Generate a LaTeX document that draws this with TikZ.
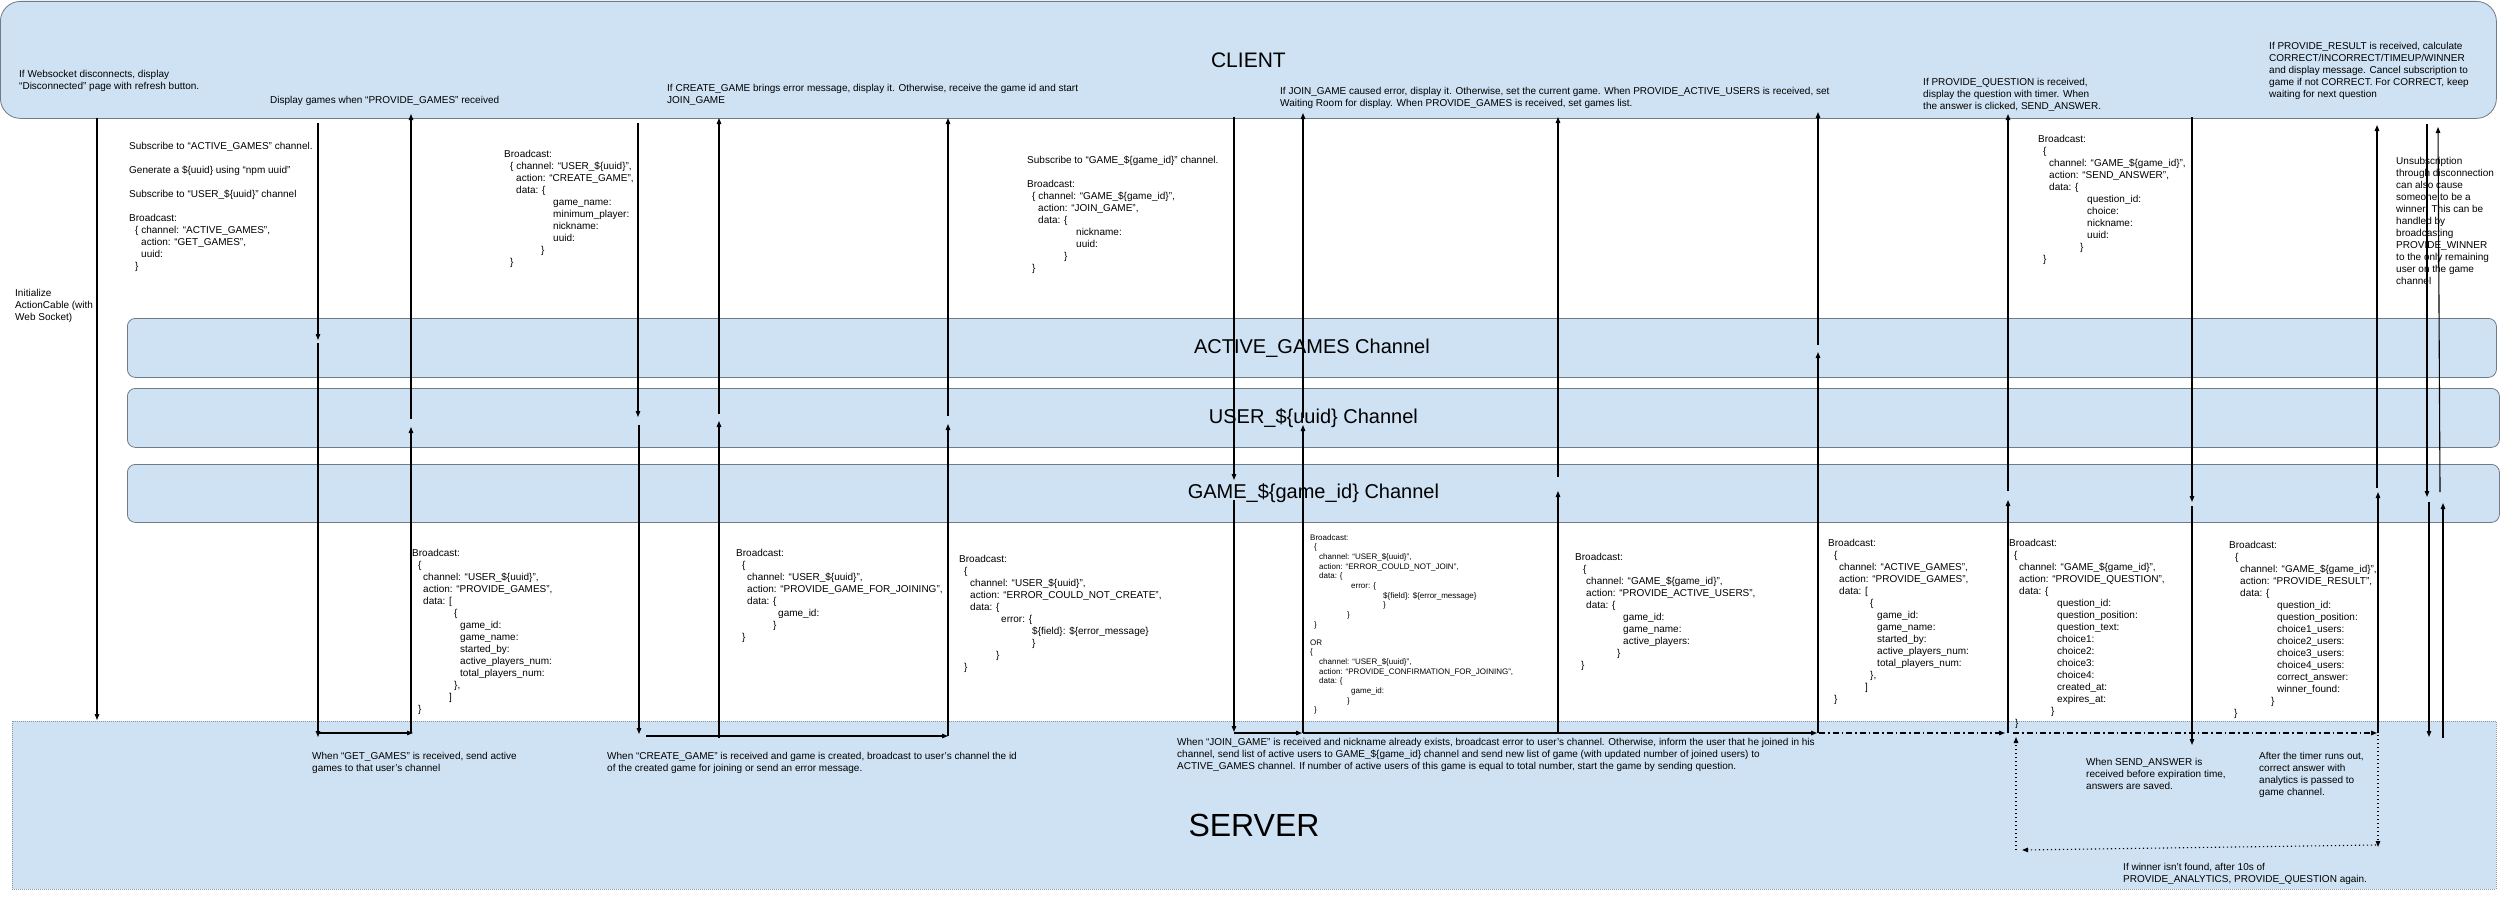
\documentclass[tikz,border=0pt]{standalone}
\usepackage{fontspec}
\setmainfont{Liberation Sans}
\usetikzlibrary{arrows.meta}
\definecolor{boxfill}{HTML}{CFE2F3}
\definecolor{boxline}{HTML}{6F7B87}
\definecolor{srvline}{HTML}{8C96A0}
\newcommand{\seqarrow}[4]{\coordinate (#1-s) at (#3);\coordinate (#1-e) at (#4);\draw[#2] (#1-s) -- (#1-e);}
\begin{document}
\begin{tikzpicture}[x=1pt,y=-1pt,
  txt/.style={anchor=north west, inner sep=0pt, align=left, font=\fontsize{10}{12}\selectfont},
  smalltxt/.style={anchor=north west, inner sep=0pt, align=left, font=\fontsize{8}{9.7}\selectfont},
  chan/.style={draw=boxline, fill=boxfill, line width=0.8pt, rounded corners=8pt, anchor=north west, inner sep=0pt, font=\fontsize{20}{24}\selectfont},
  arr/.style={line width=1.1pt, -{Triangle[length=6pt,width=4.5pt]}},
  dashdotarr/.style={arr, dash pattern=on 6pt off 3pt on 1.5pt off 3pt},
  dotarr/.style={arr, dash pattern=on 1.2pt off 2.8pt}]
\useasboundingbox (0,0) rectangle (2500,899);

% ---------- boxes ----------
\node[chan, rounded corners=20pt, minimum width=2496pt, minimum height=117pt, font=\fontsize{21}{25}\selectfont] (client) at (0,1) {CLIENT};
\node[chan, minimum width=2369pt, minimum height=59pt] (activech) at (127,318) {ACTIVE\_GAMES Channel};
\node[chan, minimum width=2372pt, minimum height=59pt] (userch) at (127,388) {USER\_\$\{uuid\} Channel};
\node[chan, minimum width=2372pt, minimum height=58pt] (gamech) at (127,464) {GAME\_\$\{game\_id\} Channel};
\node[draw=srvline, fill=boxfill, line width=0.8pt, dash pattern=on 1pt off 1pt, anchor=north west, inner sep=0pt, minimum width=2484pt, minimum height=168pt] (server) at (12,721) {};
\node[inner sep=0pt, font=\fontsize{32}{38}\selectfont] (servertitle) at (1254,825) {SERVER};

% ---------- client notes ----------
\node[txt] (n-ws) at (19,70) {If Websocket disconnects, display\\“Disconnected” page with refresh button.};
\node[txt] (n-display) at (270,96) {Display games when “PROVIDE\_GAMES” received};
\node[txt] (n-create) at (667,84) {If CREATE\_GAME brings error message, display it. Otherwise, receive the game id and start\\JOIN\_GAME};
\node[txt] (n-join) at (1280,87) {If JOIN\_GAME caused error, display it. Otherwise, set the current game. When PROVIDE\_ACTIVE\_USERS is received, set\\Waiting Room for display. When PROVIDE\_GAMES is received, set games list.};
\node[txt] (n-question) at (1923,78) {If PROVIDE\_QUESTION is received,\\display the question with timer. When\\the answer is clicked, SEND\_ANSWER.};
\node[txt] (n-result) at (2269,42) {If PROVIDE\_RESULT is received, calculate\\CORRECT/INCORRECT/TIMEUP/WINNER\\and display message. Cancel subscription to\\game if not CORRECT. For CORRECT, keep\\waiting for next question};

% ---------- upper messages ----------
\node[txt] (n-init) at (15,289) {Initialize\\ActionCable (with\\Web Socket)};
\node[txt] (m-getgames) at (129,142) {Subscribe to “ACTIVE\_GAMES” channel.\\[12pt]
Generate a \$\{uuid\} using “npm uuid”\\[12pt]
Subscribe to “USER\_\$\{uuid\}” channel\\[12pt]
Broadcast:\\
\hspace*{6pt}\{ channel: “ACTIVE\_GAMES”,\\
\hspace*{12pt}action: “GET\_GAMES”,\\
\hspace*{12pt}uuid:\\
\hspace*{6pt}\}};
\node[txt] (m-creategame) at (504,150) {Broadcast:\\
\hspace*{6pt}\{ channel: “USER\_\$\{uuid\}”,\\
\hspace*{12pt}action: “CREATE\_GAME”,\\
\hspace*{12pt}data: \{\\
\hspace*{49pt}game\_name:\\
\hspace*{49pt}minimum\_player:\\
\hspace*{49pt}nickname:\\
\hspace*{49pt}uuid:\\
\hspace*{37pt}\}\\
\hspace*{6pt}\}};
\node[txt] (m-joingame) at (1027,156) {Subscribe to “GAME\_\$\{game\_id\}” channel.\\[12pt]
Broadcast:\\
\hspace*{5pt}\{ channel: “GAME\_\$\{game\_id\}”,\\
\hspace*{11pt}action: “JOIN\_GAME”,\\
\hspace*{11pt}data: \{\\
\hspace*{49pt}nickname:\\
\hspace*{49pt}uuid:\\
\hspace*{37pt}\}\\
\hspace*{5pt}\}};
\node[txt] (m-sendanswer) at (2038,135) {Broadcast:\\
\hspace*{5pt}\{\\
\hspace*{11pt}channel: “GAME\_\$\{game\_id\}”,\\
\hspace*{11pt}action: “SEND\_ANSWER”,\\
\hspace*{11pt}data: \{\\
\hspace*{49pt}question\_id:\\
\hspace*{49pt}choice:\\
\hspace*{49pt}nickname:\\
\hspace*{49pt}uuid:\\
\hspace*{42pt}\}\\
\hspace*{5pt}\}};
\node[txt] (n-unsub) at (2396,157) {Unsubscription\\through disconnection\\can also cause\\someone to be a\\winner. This can be\\handled by\\broadcasting\\PROVIDE\_WINNER\\to the only remaining\\user on the game\\channel};

% ---------- lower messages ----------
\node[txt] (m-providegames) at (412,549) {Broadcast:\\
\hspace*{6pt}\{\\
\hspace*{11pt}channel: “USER\_\$\{uuid\}”,\\
\hspace*{11pt}action: “PROVIDE\_GAMES”,\\
\hspace*{11pt}data: [\\
\hspace*{42pt}\{\\
\hspace*{48pt}game\_id:\\
\hspace*{48pt}game\_name:\\
\hspace*{48pt}started\_by:\\
\hspace*{48pt}active\_players\_num:\\
\hspace*{48pt}total\_players\_num:\\
\hspace*{42pt}\},\\
\hspace*{37pt}]\\
\hspace*{6pt}\}};
\node[txt] (m-gameforjoin) at (736,549) {Broadcast:\\
\hspace*{6pt}\{\\
\hspace*{11pt}channel: “USER\_\$\{uuid\}”,\\
\hspace*{11pt}action: “PROVIDE\_GAME\_FOR\_JOINING”,\\
\hspace*{11pt}data: \{\\
\hspace*{42pt}game\_id:\\
\hspace*{37pt}\}\\
\hspace*{6pt}\}};
\node[txt] (m-errcreate) at (959,555) {Broadcast:\\
\hspace*{5pt}\{\\
\hspace*{11pt}channel: “USER\_\$\{uuid\}”,\\
\hspace*{11pt}action: “ERROR\_COULD\_NOT\_CREATE”,\\
\hspace*{11pt}data: \{\\
\hspace*{42pt}error: \{\\
\hspace*{73pt}\$\{field\}: \$\{error\_message\}\\
\hspace*{73pt}\}\\
\hspace*{37pt}\}\\
\hspace*{5pt}\}};
\node[smalltxt] (m-errjoin) at (1310,534) {Broadcast:\\
\hspace*{4pt}\{\\
\hspace*{9pt}channel: “USER\_\$\{uuid\}”,\\
\hspace*{9pt}action: “ERROR\_COULD\_NOT\_JOIN”,\\
\hspace*{9pt}data: \{\\
\hspace*{41pt}error: \{\\
\hspace*{73pt}\$\{field\}: \$\{error\_message\}\\
\hspace*{73pt}\}\\
\hspace*{37pt}\}\\
\hspace*{4pt}\}\\[8pt]
OR\\
\{\\
\hspace*{9pt}channel: “USER\_\$\{uuid\}”,\\
\hspace*{9pt}action: “PROVIDE\_CONFIRMATION\_FOR\_JOINING”,\\
\hspace*{9pt}data: \{\\
\hspace*{41pt}game\_id:\\
\hspace*{37pt}\}\\
\hspace*{4pt}\}};
\node[txt] (m-activeusers) at (1575,553) {Broadcast:\\
\hspace*{8pt}\{\\
\hspace*{11pt}channel: “GAME\_\$\{game\_id\}”,\\
\hspace*{11pt}action: “PROVIDE\_ACTIVE\_USERS”,\\
\hspace*{11pt}data: \{\\
\hspace*{48pt}game\_id:\\
\hspace*{48pt}game\_name:\\
\hspace*{48pt}active\_players:\\
\hspace*{42pt}\}\\
\hspace*{6pt}\}};
\node[txt] (m-activegames) at (1828,539) {Broadcast:\\
\hspace*{6pt}\{\\
\hspace*{11pt}channel: “ACTIVE\_GAMES”,\\
\hspace*{11pt}action: “PROVIDE\_GAMES”,\\
\hspace*{11pt}data: [\\
\hspace*{42pt}\{\\
\hspace*{49pt}game\_id:\\
\hspace*{49pt}game\_name:\\
\hspace*{49pt}started\_by:\\
\hspace*{49pt}active\_players\_num:\\
\hspace*{49pt}total\_players\_num:\\
\hspace*{42pt}\},\\
\hspace*{37pt}]\\
\hspace*{6pt}\}};
\node[txt] (m-question) at (2009,539) {Broadcast:\\
\hspace*{5pt}\{\\
\hspace*{10pt}channel: “GAME\_\$\{game\_id\}”,\\
\hspace*{10pt}action: “PROVIDE\_QUESTION”,\\
\hspace*{10pt}data: \{\\
\hspace*{48pt}question\_id:\\
\hspace*{48pt}question\_position:\\
\hspace*{48pt}question\_text:\\
\hspace*{48pt}choice1:\\
\hspace*{48pt}choice2:\\
\hspace*{48pt}choice3:\\
\hspace*{48pt}choice4:\\
\hspace*{48pt}created\_at:\\
\hspace*{48pt}expires\_at:\\
\hspace*{42pt}\}\\
\hspace*{6pt}\}};
\node[txt] (m-result) at (2229,541) {Broadcast:\\
\hspace*{6pt}\{\\
\hspace*{11pt}channel: “GAME\_\$\{game\_id\}”,\\
\hspace*{11pt}action: “PROVIDE\_RESULT”,\\
\hspace*{11pt}data: \{\\
\hspace*{48pt}question\_id:\\
\hspace*{48pt}question\_position:\\
\hspace*{48pt}choice1\_users:\\
\hspace*{48pt}choice2\_users:\\
\hspace*{48pt}choice3\_users:\\
\hspace*{48pt}choice4\_users:\\
\hspace*{48pt}correct\_answer:\\
\hspace*{48pt}winner\_found:\\
\hspace*{42pt}\}\\
\hspace*{5pt}\}};

% ---------- server notes ----------
\node[txt] (s-getgames) at (312,752) {When “GET\_GAMES” is received, send active\\games to that user’s channel};
\node[txt] (s-creategame) at (607,752) {When “CREATE\_GAME” is received and game is created, broadcast to user’s channel the id\\of the created game for joining or send an error message.};
\node[txt] (s-joingame) at (1177,738) {When “JOIN\_GAME” is received and nickname already exists, broadcast error to user’s channel. Otherwise, inform the user that he joined in his\\channel, send list of active users to GAME\_\$\{game\_id\} channel and send new list of game (with updated number of joined users) to\\ACTIVE\_GAMES channel. If number of active users of this game is equal to total number, start the game by sending question.};
\node[txt] (s-answer) at (2086,758) {When SEND\_ANSWER is\\received before expiration time,\\answers are saved.};
\node[txt] (s-timer) at (2259,752) {After the timer runs out,\\correct answer with\\analytics is passed to\\game channel.};
\node[txt] (s-winner) at (2123,863) {If winner isn’t found, after 10s of\\PROVIDE\_ANALYTICS, PROVIDE\_QUESTION again.};

% ---------- connectors ----------
\seqarrow{a1}{arr}{97,118}{97,720}
\seqarrow{a2}{arr}{318,123}{318,340}
\seqarrow{a3}{arr}{318,343}{318,737}
\seqarrow{a4}{arr}{318,733}{413,733}
\seqarrow{a5}{arr}{411,733}{411,427}
\seqarrow{a6}{arr}{411,419}{411,114}
\seqarrow{a7}{arr}{638,123}{638,417}
\seqarrow{a8}{arr}{639,425}{639,734}
\seqarrow{a9}{arr}{646,736}{948,736}
\seqarrow{a10}{arr}{719,738}{719,421}
\seqarrow{a11}{arr}{719,414}{719,118}
\seqarrow{a12}{arr}{948,736}{948,424}
\seqarrow{a13}{arr}{948,416}{948,118}
\seqarrow{a14}{arr}{1234,117}{1234,480}
\seqarrow{a15}{arr}{1234,500}{1234,732}
\seqarrow{a16}{arr}{1234,733}{1302,733}
\seqarrow{a17}{arr}{1303,733}{1303,425}
\seqarrow{a18}{arr}{1303,418}{1303,113}
\seqarrow{a19}{arr}{1303,733}{1817,733}
\seqarrow{a20}{arr}{1558,733}{1558,491}
\seqarrow{a21}{arr}{1558,477}{1558,117}
\seqarrow{a22}{arr}{1818,733}{1818,352}
\seqarrow{a23}{arr}{1818,345}{1818,112}
\seqarrow{a24}{dashdotarr}{1819,733}{2005,733}
\seqarrow{a25}{arr}{2008,733}{2008,500}
\seqarrow{a26}{arr}{2008,491}{2008,114}
\seqarrow{a27}{dashdotarr}{2013,733}{2377,733}
\seqarrow{a28}{dotarr}{2378,735}{2378,847}
\seqarrow{a29}{dotarr}{2376,845}{2022,850}
\seqarrow{a30}{dotarr}{2016,850}{2016,737}
\seqarrow{a31}{arr}{2192,117}{2192,502}
\seqarrow{a32}{arr}{2192,506}{2192,745}
\seqarrow{a33}{arr}{2378,733}{2378,492}
\seqarrow{a34}{arr}{2377,488}{2377,125}
\seqarrow{a35}{arr}{2427,124}{2427,497}
\seqarrow{a36}{arr}{2429,502}{2429,737}
\seqarrow{a37}{arr}{2443,738}{2443,503}
\seqarrow{a38}{arr}{2440,492}{2438,127}
\end{tikzpicture}
\end{document}
